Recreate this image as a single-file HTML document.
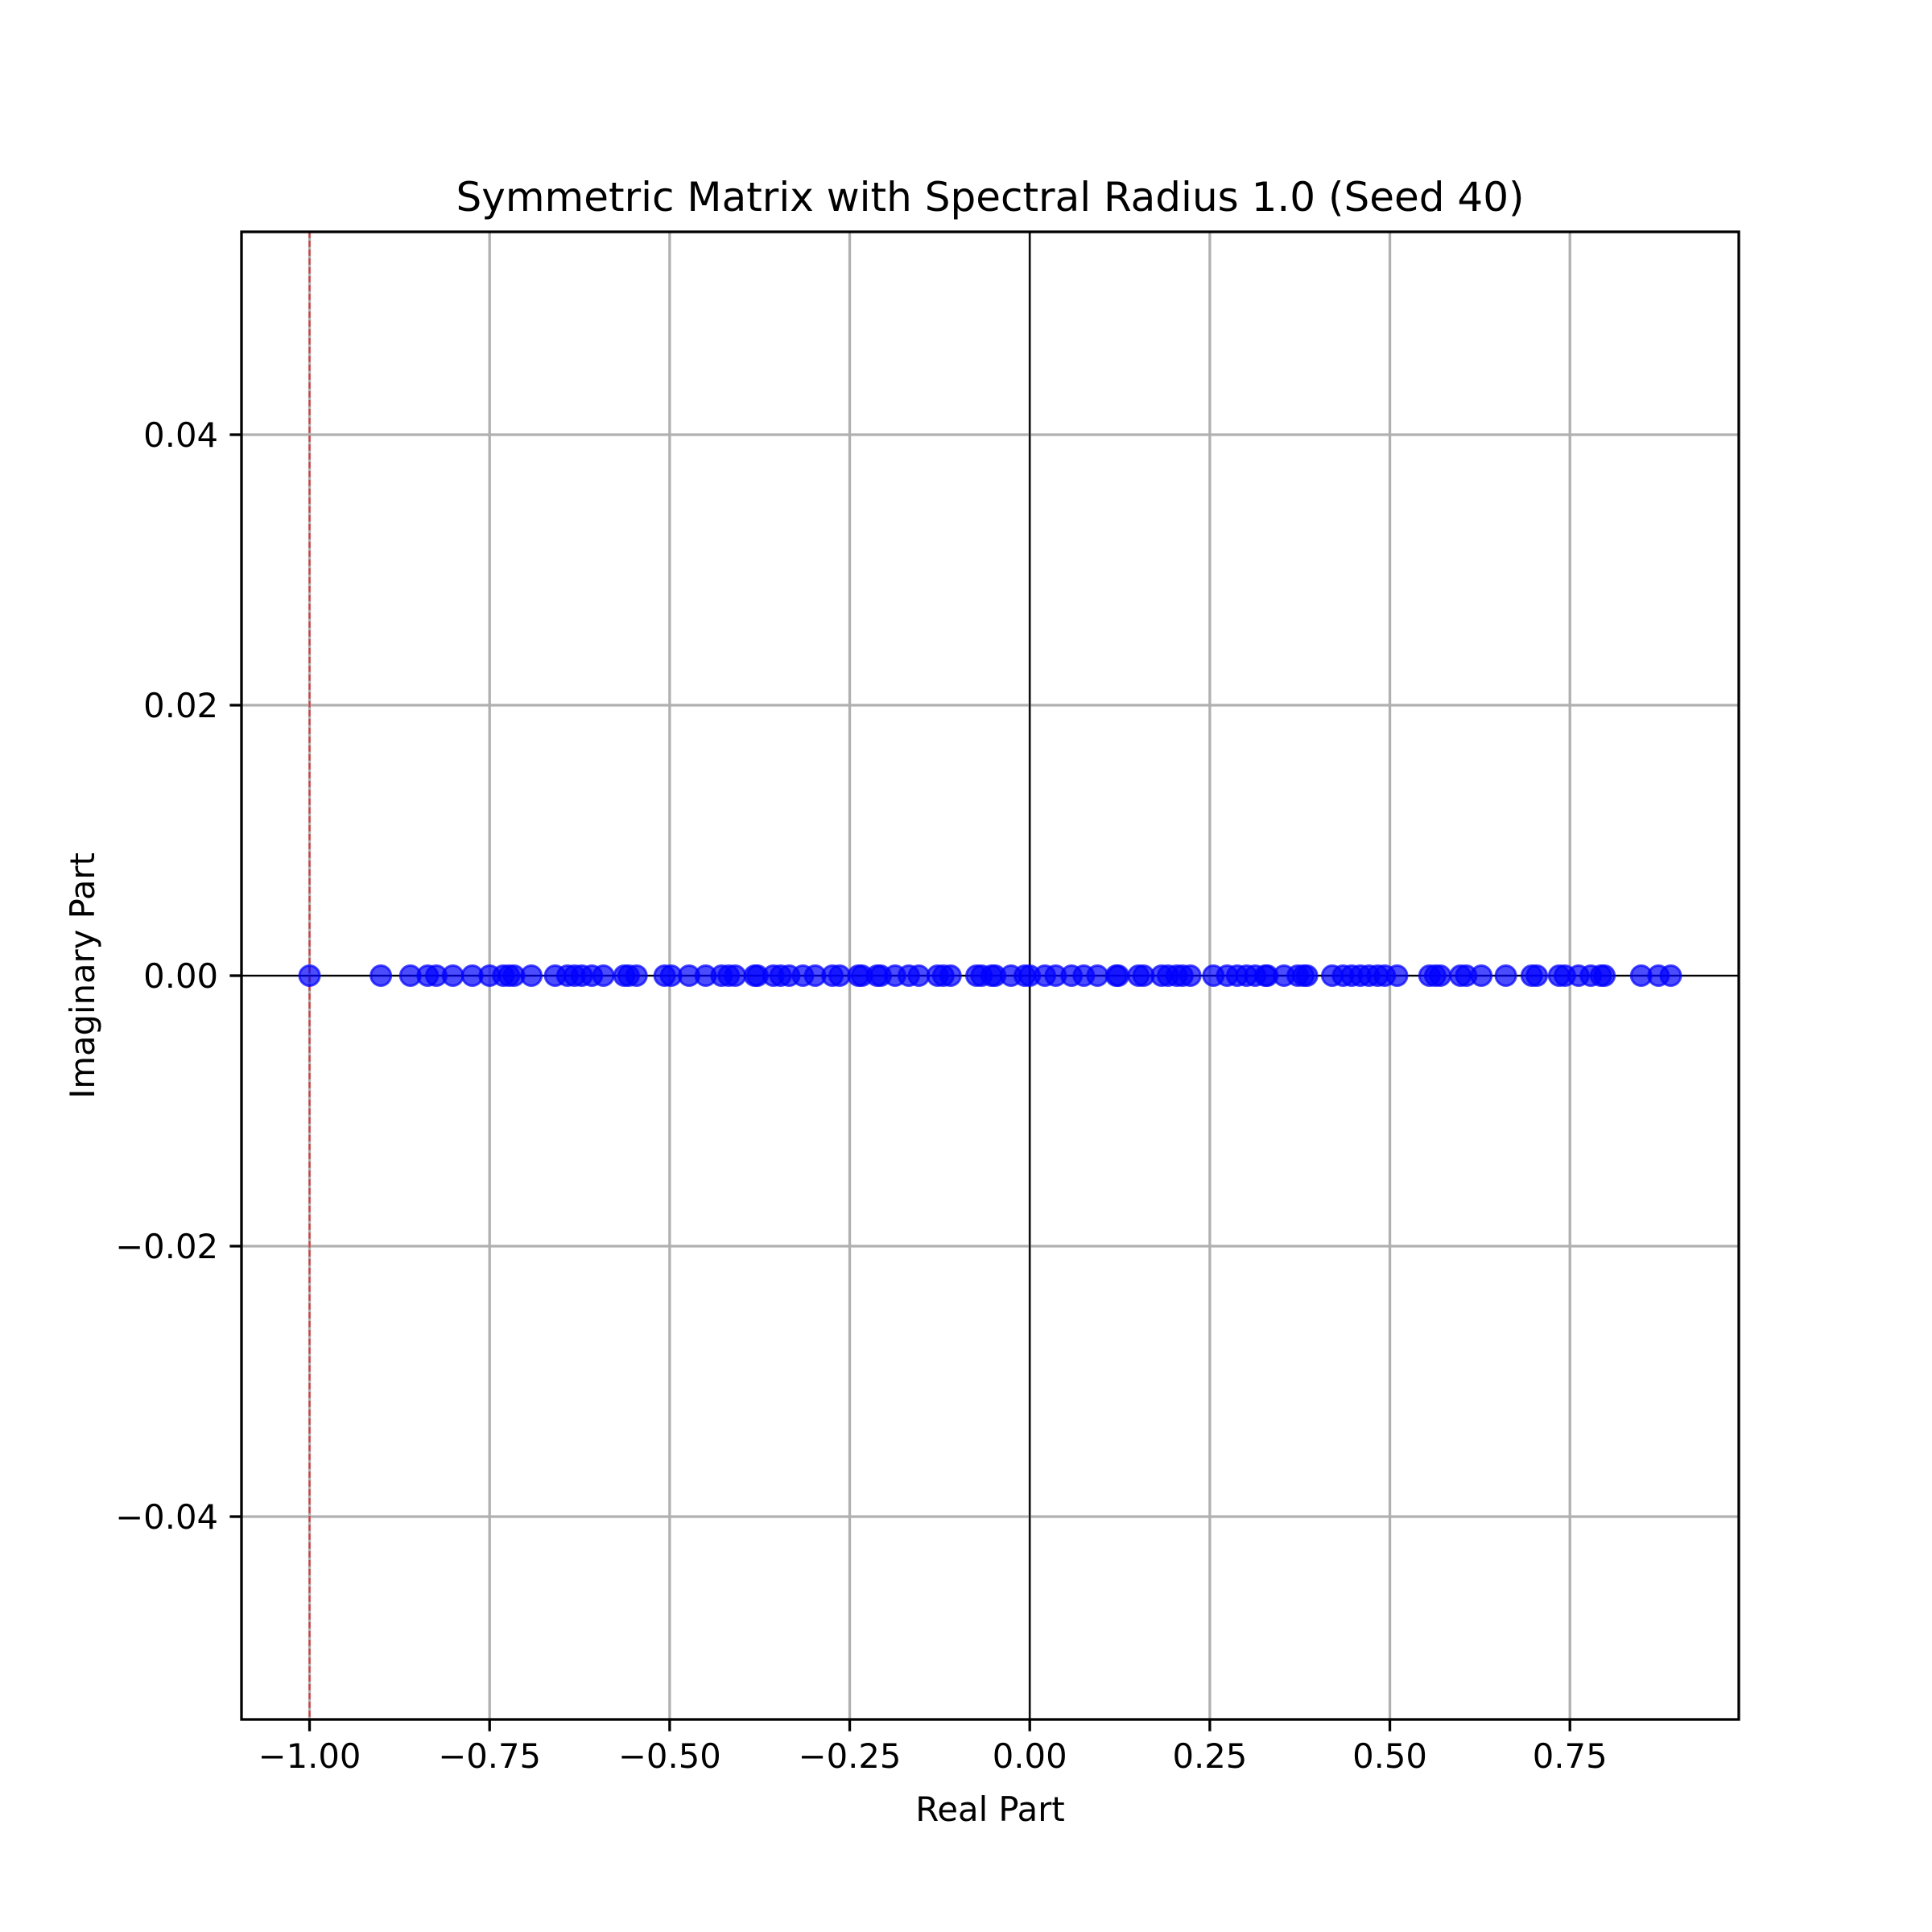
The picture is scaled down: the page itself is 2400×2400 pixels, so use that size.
<!DOCTYPE html>
<html><head><meta charset="utf-8"><style>html,body{margin:0;padding:0;background:#fff}svg{display:block}text{font-family:"DejaVu Sans","Liberation Sans",sans-serif;fill:#000}</style></head>
<body>
<svg id="chart" width="2400" height="2400" viewBox="0 0 2400 2400" xmlns="http://www.w3.org/2000/svg">
<rect width="2400" height="2400" fill="#fff"/>
<g id="grid"></g>
<g id="refs"></g>
<g id="points"></g>
<rect x="300" y="288" width="1860" height="1848" fill="none" stroke="#000" stroke-width="3.3"/>
<g id="ticks"></g>
<text x="1230" y="262" font-size="50" text-anchor="middle">Symmetric Matrix with Spectral Radius 1.0 (Seed 40)</text>
<text x="1230" y="2262" font-size="41.7" text-anchor="middle">Real Part</text>
<text x="0" y="0" font-size="41.7" text-anchor="middle" transform="translate(117,1212) rotate(-90)">Imaginary Part</text>
</svg>
<script>
const realParts = [-1.0,-0.901,-0.860,-0.836,-0.824,-0.801,-0.774,-0.750,-0.731,-0.723,-0.716,-0.692,-0.659,-0.642,-0.632,-0.622,-0.608,-0.592,-0.563,-0.557,-0.546,-0.507,-0.498,-0.473,-0.450,-0.428,-0.418,-0.409,-0.382,-0.378,-0.356,-0.346,-0.334,-0.315,-0.298,-0.274,-0.264,-0.238,-0.233,-0.212,-0.207,-0.187,-0.168,-0.154,-0.128,-0.120,-0.110,-0.074,-0.067,-0.053,-0.048,-0.026,-0.007,0.0,0.021,0.036,0.058,0.075,0.094,0.120,0.123,0.151,0.158,0.183,0.192,0.204,0.212,0.223,0.255,0.274,0.288,0.301,0.313,0.327,0.330,0.353,0.372,0.380,0.385,0.420,0.435,0.447,0.459,0.471,0.483,0.493,0.510,0.555,0.563,0.570,0.598,0.606,0.627,0.661,0.697,0.704,0.735,0.743,0.762,0.779,0.793,0.798,0.849,0.873,0.890];
const imagParts = realParts.map(() => 0);
const xTicks = [-1.0,-0.75,-0.5,-0.25,0,0.25,0.5,0.75];
const xTickLabels = ["\u22121.00","\u22120.75","\u22120.50","\u22120.25","0.00","0.25","0.50","0.75"];
const yTicks = [0.04,0.02,0,-0.02,-0.04];
const yTickLabels = ["0.04","0.02","0.00","\u22120.02","\u22120.04"];
const spectralRadius = 1.0;

const L=300,R=2160,T=288,B=2136;
const xMin=-1.0945,xMax=0.9845,yMin=-0.055,yMax=0.055;
const X=v=>L+(v-xMin)/(xMax-xMin)*(R-L);
const Y=v=>B-(v-yMin)/(yMax-yMin)*(B-T);
const NS="http://www.w3.org/2000/svg";
function mk(tag,attrs,parent){const e=document.createElementNS(NS,tag);for(const k in attrs)e.setAttribute(k,attrs[k]);parent.appendChild(e);return e;}
const grid=document.getElementById('grid'),ticks=document.getElementById('ticks'),refs=document.getElementById('refs'),pts=document.getElementById('points');
xTicks.forEach((v,i)=>{
  const g=mk('line',{x1:X(v),x2:X(v),y1:T,y2:B,stroke:'#b0b0b0','stroke-width':3.3},grid);
  
  
  const t=mk('line',{x1:X(v),x2:X(v),y1:B,y2:B+14.6,stroke:'#000','stroke-width':3.3},ticks);
  
  
  const lb=mk('text',{x:X(v),y:B+60,'font-size':41.7,'text-anchor':'middle'},ticks);
  lb.textContent=xTickLabels[i];
  
  
});
yTicks.forEach((v,i)=>{
  const g=mk('line',{x1:L,x2:R,y1:Y(v),y2:Y(v),stroke:'#b0b0b0','stroke-width':3.3},grid);
  
  
  const t=mk('line',{x1:L-14.6,x2:L,y1:Y(v),y2:Y(v),stroke:'#000','stroke-width':3.3},ticks);
  
  
  const lb=mk('text',{x:L-29,y:Y(v)+15,'font-size':41.7,'text-anchor':'end'},ticks);
  lb.textContent=yTickLabels[i];
  
  
});
const h=mk('line',{x1:L,x2:R,y1:Y(0),y2:Y(0),stroke:'#000','stroke-width':2.1},refs);


const vl=mk('line',{x1:X(0),x2:X(0),y1:T,y2:B,stroke:'#000','stroke-width':2.1},refs);


const rl=mk('line',{x1:X(-spectralRadius),x2:X(-spectralRadius),y1:T,y2:B,stroke:'#ff0000','stroke-opacity':0.7,'stroke-width':2.1,'stroke-dasharray':'7.7 3.3'},refs);


realParts.forEach((v,i)=>{
  const c=mk('circle',{cx:X(v),cy:Y(imagParts[i]),r:12.5,fill:'#0000ff','fill-opacity':0.7,stroke:'#0000ff','stroke-opacity':0.7,'stroke-width':3},pts);
  
  
});
</script>
</body></html>
